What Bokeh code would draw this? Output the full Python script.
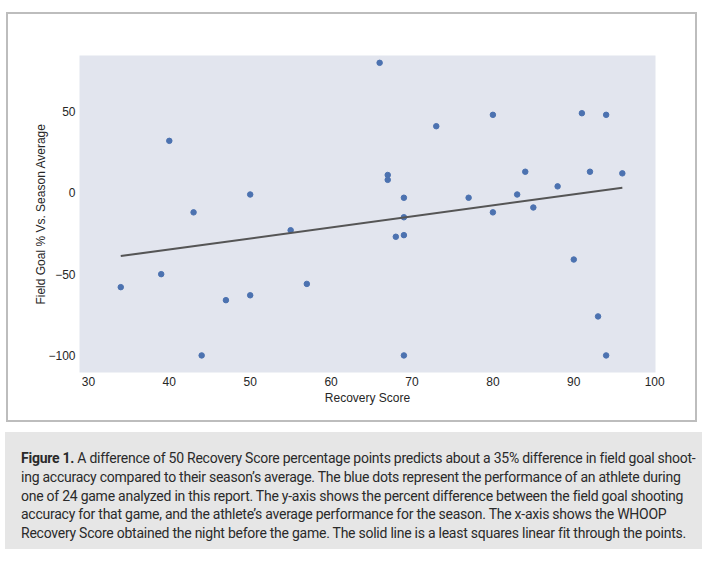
import numpy as np
from bokeh.plotting import figure
from bokeh.models import Range1d, FixedTicker, Div
from bokeh.layouts import column
from bokeh.embed import file_html
from bokeh.resources import INLINE

# recovery score the night before vs. field goal % difference from season average
recovery = [34, 39, 40, 43, 44, 47, 50, 50, 55, 57, 66, 67, 67, 68, 69, 69, 69, 69,
            73, 77, 80, 80, 83, 84, 85, 88, 90, 91, 92, 93, 94, 94, 96]
fg_diff = [-58, -50, 32, -12, -100, -66, -1, -63, -23, -56, 80, 11, 8, -27, -3, -15, -26, -100,
           41, -3, 48, -12, -1, 13, -9, 4, -41, 49, 13, -76, 48, -100, 12]

x_ticks = [30, 40, 50, 60, 70, 80, 90, 100]
y_ticks = [-100, -50, 0, 50]

caption_lines = [
    "<b>Figure 1.</b> A difference of 50 Recovery Score percentage points predicts about a 35% difference in field goal shoot-",
    "ing accuracy compared to their season\u2019s average. The blue dots represent the performance of an athlete during",
    "one of 24 game analyzed in this report. The y-axis shows the percent difference between the field goal shooting",
    "accuracy for that game, and the athlete\u2019s average performance for the season. The x-axis shows the WHOOP",
    "Recovery Score obtained the night before the game. The solid line is a least squares linear fit through the points.",
]

# least squares fit
slope, intercept = np.polyfit(recovery, fg_diff, 1)
fit_x = [min(recovery), max(recovery)]
fit_y = [slope * v + intercept for v in fit_x]

font = "Liberation Sans"
ink = "#262626"

p = figure(width=691, height=410, output_backend="svg", toolbar_location=None,
           x_range=Range1d(28.9, 100.1), y_range=Range1d(-110.5, 84.5),
           min_border_left=71, min_border_right=44, min_border_top=41, min_border_bottom=52)
p.styles = {"border": "2px solid #bdbdbd", "margin-left": "6px", "margin-top": "12px"}
p.background_fill_color = "#e2e5ee"
p.border_fill_color = "white"
p.outline_line_color = None
p.xgrid.grid_line_color = None
p.ygrid.grid_line_color = None

p.scatter(recovery, fg_diff, size=5.5, color="#4c72b0")
p.line(fit_x, fit_y, line_width=2, color="#555555")

for ax in (p.xaxis[0], p.yaxis[0]):
    ax.axis_line_color = None
    ax.major_tick_line_color = None
    ax.minor_tick_line_color = None
    ax.major_tick_out = 0
    ax.major_tick_in = 0
    ax.major_label_text_font = font
    ax.major_label_text_font_size = "12px"
    ax.major_label_text_color = ink
    ax.axis_label_text_font = font
    ax.axis_label_text_font_size = "12px"
    ax.axis_label_text_font_style = "normal"
    ax.axis_label_text_color = ink
    ax.major_label_standoff = 4

p.xaxis.axis_label_standoff = 2
p.yaxis.axis_label_standoff = -3
p.xaxis.ticker = FixedTicker(ticks=x_ticks)
p.yaxis.ticker = FixedTicker(ticks=y_ticks)
p.yaxis.major_label_overrides = {t: ("\u2212" + str(-t) if t < 0 else str(t)) for t in y_ticks}
p.xaxis.axis_label = "Recovery Score"
p.yaxis.axis_label = "Field Goal % Vs. Season Average"

caption = Div(
    text=('<div style="background:#e6e6e6;width:697px;height:117px;box-sizing:border-box;'
          'padding:17px 0 0 16px;font-family:\'Roboto\',sans-serif;letter-spacing:-0.25px;'
          'font-size:14px;line-height:18.8px;color:#2a2a2a;white-space:nowrap;overflow:hidden;">'
          + "<br>".join(caption_lines) + '</div>'),
    width=697, height=117)
caption.styles = {"margin-left": "5px", "margin-top": "10px"}

layout = column(p, caption)
open("out.html", "w").write(file_html(layout, INLINE))
